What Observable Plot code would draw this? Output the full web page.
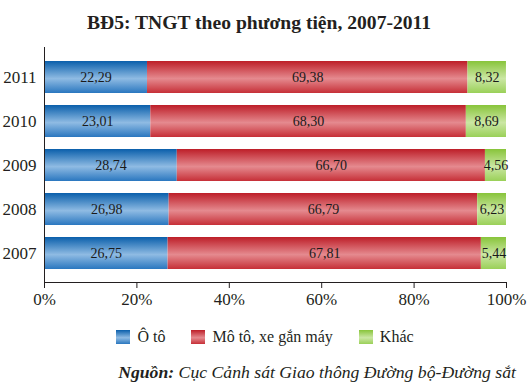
<!DOCTYPE html>
<html><head><meta charset="utf-8">
<script src="https://cdn.jsdelivr.net/npm/d3@7"></script>
<script src="https://cdn.jsdelivr.net/npm/@observablehq/plot@0.6"></script>
<style>
body{margin:0;background:#fff;font-family:'Liberation Serif','Times New Roman',serif;color:#231f20;width:530px;}
#title{height:40px;line-height:45px;text-align:center;font-weight:bold;font-size:19.6px;padding-right:12px;}
#legend{display:flex;justify-content:center;align-items:center;height:22px;margin-top:16px;font-size:16px;}
#legend .it{display:flex;align-items:center;margin:0 13px;}
#legend .sw{width:14px;height:14px;margin-right:7px;}
#caption{text-align:right;padding-right:14px;margin-top:14px;font-size:17.7px;font-style:italic;}
</style></head><body>
<div id="title">BĐ5: TNGT theo phương tiện, 2007-2011</div>
<div id="chart"></div>
<div id="legend"></div>
<div id="caption"><b>Nguồn:</b> Cục Cảnh sát Giao thông Đường bộ-Đường sắt</div>
<script>
const years = ["2011","2010","2009","2008","2007"];
const categories = ["Ô tô","Mô tô, xe gắn máy","Khác"];
const oto = [22.29, 23.01, 28.74, 26.98, 26.75];
const moto = [69.38, 68.30, 66.70, 66.79, 67.81];
const khac = [8.32, 8.69, 4.56, 6.23, 5.44];
const xTicks = [0, 20, 40, 60, 80, 100];

const series = [oto, moto, khac];
const data = [];
years.forEach((y, i) => series.forEach((s, j) => data.push({year: y, cat: categories[j], value: s[i]})));

const grads = [
  {id: "gBlue", stops: [["0", "#0a5fab"], ["0.55", "#8fbbe3"], ["1", "#2a77bf"]]},
  {id: "gRed", stops: [["0", "#bd1e28"], ["0.55", "#e58a8f"], ["1", "#c62f37"]]},
  {id: "gGreen", stops: [["0", "#88c43a"], ["0.55", "#cbe7a4"], ["1", "#9ad058"]]}
];
const cssGrad = g => `linear-gradient(to bottom, ${g.stops.map(s => s[1] + " " + (+s[0] * 100) + "%").join(", ")})`;

function defs() {
  const ns = "http://www.w3.org/2000/svg";
  const d = document.createElementNS(ns, "defs");
  for (const g of grads) {
    const lg = document.createElementNS(ns, "linearGradient");
    lg.setAttribute("id", g.id);
    lg.setAttribute("x1", "0"); lg.setAttribute("y1", "0");
    lg.setAttribute("x2", "0"); lg.setAttribute("y2", "1");
    for (const [o, c] of g.stops) {
      const st = document.createElementNS(ns, "stop");
      st.setAttribute("offset", o); st.setAttribute("stop-color", c);
      lg.appendChild(st);
    }
    d.appendChild(lg);
  }
  return d;
}

const fmt = v => v.toFixed(2).replace(".", ",");
const FF = "'Liberation Serif', 'Times New Roman', serif";

const chart = Plot.plot({
  width: 530,
  height: 270,
  marginTop: 7,
  marginBottom: 28,
  marginLeft: 44,
  marginRight: 24,
  style: {fontFamily: FF, color: "#231f20", background: "#fff"},
  x: {domain: [0, 100], ticks: xTicks, tickFormat: d => d + "%", label: null},
  y: {domain: years, padding: 0.28, label: null},
  color: {domain: categories, range: grads.map(g => `url(#${g.id})`)},
  marks: [
    defs,
    Plot.barX(data, Plot.stackX({x: "value", y: "year", fill: "cat", order: categories})),
    Plot.text(data, Plot.stackX({x: "value", y: "year", z: "cat", order: categories, text: d => fmt(d.value), fontSize: 14, fontFamily: FF, fill: "#1a1a1a"})),
    Plot.ruleX([0], {stroke: "#231f20", strokeWidth: 1}),
    Plot.frame({anchor: "bottom", stroke: "#231f20"}),
    Plot.axisX({ticks: xTicks, tickFormat: d => d + "%", tickSize: 6, tickPadding: 4, fontSize: 17, fontFamily: FF, label: null}),
    Plot.axisY({tickSize: 0, tickPadding: 8, fontSize: 17, fontFamily: FF, label: null})
  ]
});
document.getElementById("chart").appendChild(chart);

const leg = document.getElementById("legend");
categories.forEach((c, i) => {
  const it = document.createElement("div"); it.className = "it";
  const sw = document.createElement("div"); sw.className = "sw"; sw.style.background = cssGrad(grads[i]);
  const t = document.createElement("span"); t.textContent = c;
  it.appendChild(sw); it.appendChild(t); leg.appendChild(it);
});
</script>
</body></html>
